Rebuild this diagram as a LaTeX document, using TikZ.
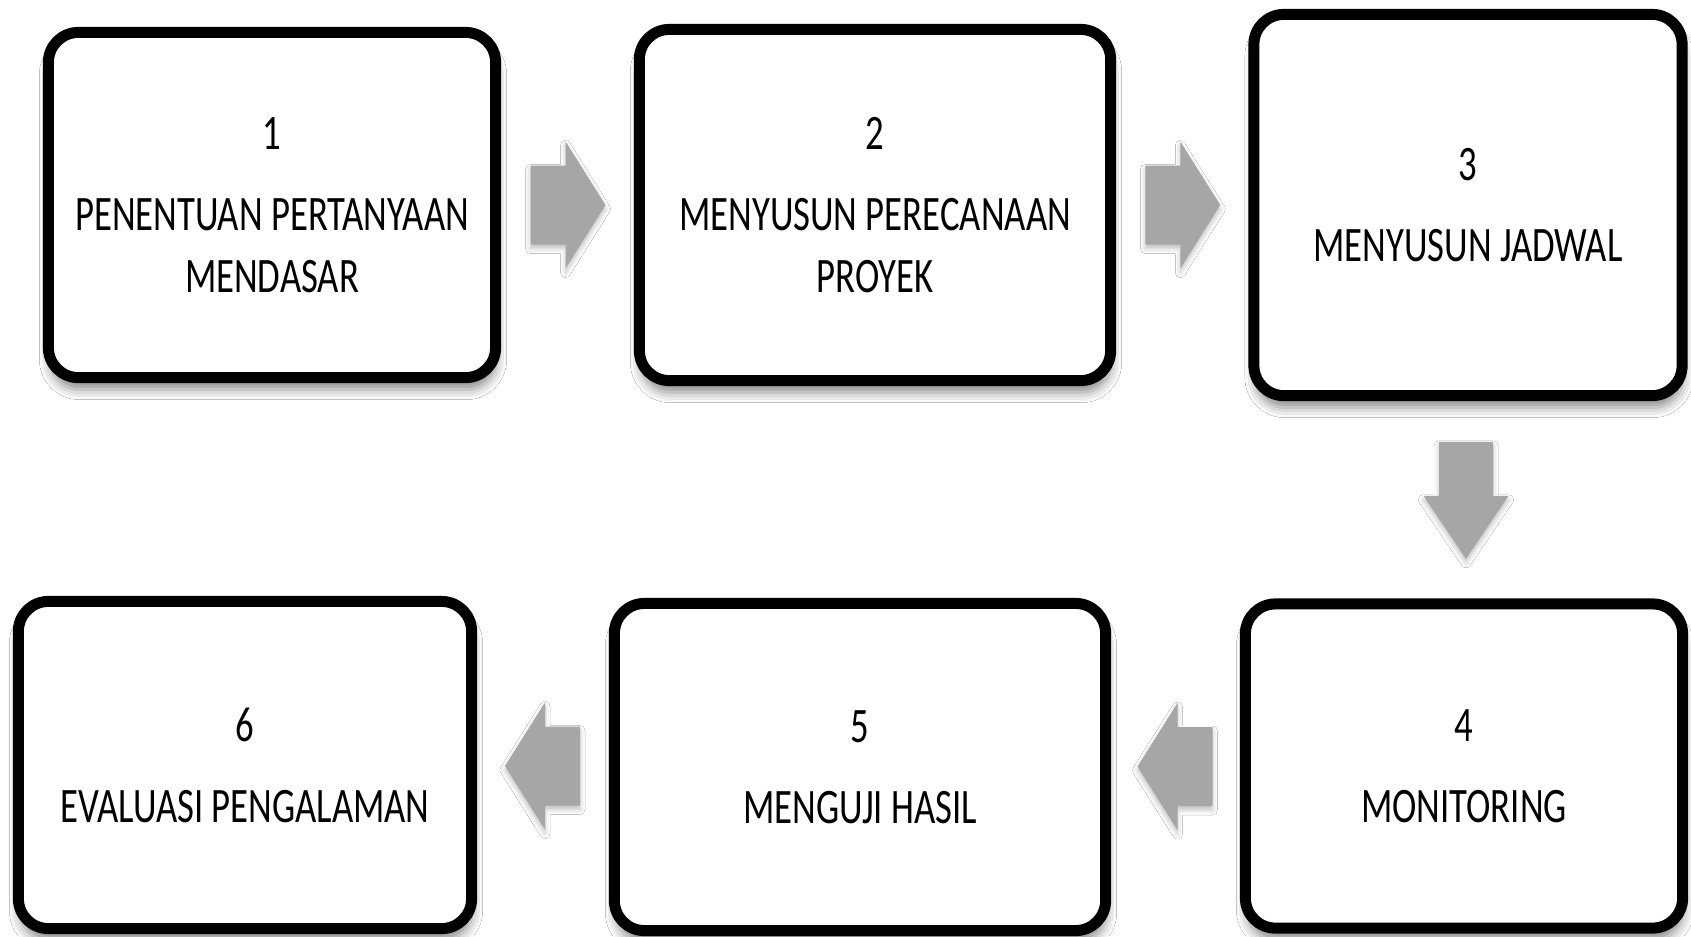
\documentclass[tikz,border=0pt]{standalone}
\usepackage{fontspec}
\setmainfont{Carlito}[FakeStretch=0.74]
\usetikzlibrary{calc, shadows.blur}
\definecolor{arrowgray}{HTML}{A6A6A6}
\tikzset{
  stepbox/.style={draw=black, line width=0.11cm, rounded corners=0.3cm, fill=white,
    align=center, font=\fontsize{14.1}{17.6}\selectfont,
    blur shadow={shadow xshift=0.01cm, shadow yshift=-0.12cm, shadow blur radius=0.1cm, shadow opacity=45}},
  arrowshade/.style={fill=arrowgray,
    blur shadow={shadow xshift=0cm, shadow yshift=-0.04cm, shadow blur radius=0.05cm, shadow opacity=25}},
  harrow/.pic={\path[arrowshade] (-37,-39.5) -- (-2,-39.5) -- (-2,-63.5) -- (38,0)
    -- (-2,63.5) -- (-2,39.5) -- (-37,39.5) -- cycle;},
  varrow/.pic={\path[arrowshade] (-27,-58) -- (27,-58) -- (27,-4) -- (42.5,-4)
    -- (0,59) -- (-42.5,-4) -- (-27,-4) -- cycle;}
}
\begin{document}
\begin{tikzpicture}[x=0.01cm, y=-0.01cm]
  \useasboundingbox[fill=white] (0,0) rectangle (1691,936);
  \foreach \n/\x/\y/\w/\h/\lbl in {
      1/272/205/4.47/3.45/{1\\[5.4pt]PENENTUAN PERTANYAAN\\MENDASAR},
      2/875/205/4.71/3.51/{2\\[5.4pt]MENYUSUN PERECANAAN\\PROYEK},
      3/1468/205/4.28/3.81/{3\\[5.4pt]MENYUSUN JADWAL},
      4/1464/766/4.37/3.24/{4\\[5.4pt]MONITORING},
      5/860/767/4.91/3.27/{5\\[5.4pt]MENGUJI HASIL},
      6/245/765/4.53/3.27/{6\\[5.4pt]EVALUASI PENGALAMAN}}
    \node[stepbox, minimum width=\w cm, minimum height=\h cm] (b\n) at (\x,\y) {\lbl};
  \pic at ($(b1.east)!0.5!(b2.west)$) {harrow};
  \pic at ($(b2.east)!0.5!(b3.west)$) {harrow};
  \pic at ($(b3.south)!0.5!(b4.north)$) {varrow};
  \pic[rotate=180] at ($(b4.west)!0.5!(b5.east)$) {harrow};
  \pic[rotate=180] at ($(b5.west)!0.5!(b6.east)$) {harrow};
\end{tikzpicture}
\end{document}
